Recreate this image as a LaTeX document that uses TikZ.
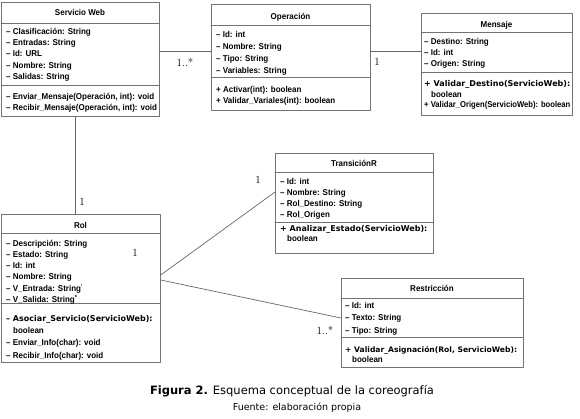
\documentclass[tikz,border=0pt]{standalone}
\usepackage{fontspec}
\newfontfamily\umlfont[FakeStretch=0.94]{Liberation Sans}
\newfontfamily\umlestrecho[FakeStretch=0.9]{Liberation Sans}
\newfontfamily\umlancho{DejaVu Sans}
\newfontfamily\piefont{DejaVu Sans}
\begin{document}
\begin{tikzpicture}[x=1pt, y=-1pt, line join=round, line cap=round,
	caja/.style={draw=black!55, line width=.7pt, inner sep=0pt, anchor=north west},
	borde/.style={draw=black!55, line width=.7pt},
	linea/.style={draw=black!60, line width=.7pt},
	titulo/.style={anchor=base, inner sep=0pt, font=\umlfont\bfseries\fontsize{8.5}{10}\selectfont},
	lista/.style={anchor=north west, inner sep=0pt, align=left, font=\umlfont\bfseries\fontsize{8.5}{#1}\selectfont},
	lista/.default=11.3,
	mult/.style={inner sep=0pt, font=\fontsize{11}{12}\selectfont}]
	\useasboundingbox (0,0) rectangle (580,418);
	% Servicio Web
	\node[caja, minimum width=158, minimum height=114] (sw) at (1,2) {};
	\foreach \y in {23,85} \draw[borde] (sw.west |- 0,\y) -- (sw.east |- 0,\y);
	\node[titulo] (swt) at (80,15.5) {Servicio Web};
	\node[lista] (swa) at (6,26) {\strut– Clasificación: String\\– Entradas: String\\– Id: URL\\– Nombre: String\\– Salidas: String};
	\node[lista] (swm) at (6,91) {\strut– Enviar\_Mensaje(Operación, int): void\\– Recibir\_Mensaje(Operación, int): void};
	% Operacion
	\node[caja, minimum width=159, minimum height=106] (op) at (211,4) {};
	\foreach \y in {25,77} \draw[borde] (op.west |- 0,\y) -- (op.east |- 0,\y);
	\node[titulo] (opt) at (290.5,19.7) {Operación};
	\node[lista=12] (opa) at (216,29) {\strut– Id: int\\– Nombre: String\\– Tipo: String\\– Variables: String};
	\node[lista=10.7] (opm) at (216,84.8) {\strut+ Activar(int): boolean\\+ Validar\_Variales(int): boolean};
	% Mensaje
	\node[caja, minimum width=151, minimum height=102] (me) at (421,13) {};
	\foreach \y in {32,72} \draw[borde] (me.west |- 0,\y) -- (me.east |- 0,\y);
	\node[titulo] (met) at (496.5,27) {Mensaje};
	\node[lista=11.2] (mea) at (424,36.2) {\strut– Destino: String\\– Id: int\\– Origen: String};
	\node[lista=10.5] (mem) at (424,79) {\strut{\umlancho\fontsize{8}{10.5}\selectfont+ Validar\_Destino(ServicioWeb):}\\\hspace*{7pt}boolean\\{\umlestrecho+ Validar\_Origen(ServicioWeb): boolean}};
	% Rol
	\node[caja, minimum width=159, minimum height=148] (rol) at (1,214) {};
	\foreach \y in {233,303} \draw[borde] (rol.west |- 0,\y) -- (rol.east |- 0,\y);
	\node[titulo] (rolt) at (80.5,228) {Rol};
	\node[lista=11.2] (rola) at (6,238.2) {\strut– Descripción: String\\– Estado: String\\– Id: int\\– Nombre: String\\– V\_Entrada: String\textsuperscript{'}\\– V\_Salida: String\textsuperscript{*}};
	\node[lista=12.3] (rolm) at (6,312.4) {\strut{\umlancho\fontsize{8}{12.3}\selectfont– Asociar\_Servicio(ServicioWeb):}\\\hspace*{7pt}boolean\\– Enviar\_Info(char): void\\– Recibir\_Info(char): void};
	% TransicionR
	\node[caja, minimum width=158, minimum height=100] (tr) at (275,153) {};
	\foreach \y in {172,222} \draw[borde] (tr.west |- 0,\y) -- (tr.east |- 0,\y);
	\node[titulo] (trt) at (354,166) {TransiciónR};
	\node[lista=11] (tra) at (280,176.3) {\strut– Id: int\\– Nombre: String\\– Rol\_Destino: String\\– Rol\_Origen};
	\node[lista=10] (trm) at (280,224) {\strut{\umlancho\fontsize{8}{10}\selectfont+ Analizar\_Estado(ServicioWeb):}\\\hspace*{7pt}boolean};
	% Restriccion
	\node[caja, minimum width=182, minimum height=89] (re) at (341,278) {};
	\foreach \y in {298,337} \draw[borde] (re.west |- 0,\y) -- (re.east |- 0,\y);
	\node[titulo] (ret) at (432,291) {Restricción};
	\node[lista=12.5] (rea) at (345,299.3) {\strut– Id: int\\– Texto: String\\– Tipo: String};
	\node[lista=10] (rem) at (345,345) {\strut{\umlancho\fontsize{7.6}{10}\selectfont+ Validar\_Asignación(Rol, ServicioWeb):}\\\hspace*{7pt}boolean};
	% asociaciones
	\draw[linea] (sw.east |- 0,51) -- (op.west |- 0,51);
	\draw[linea] (op.east |- 0,51) -- (me.west |- 0,51);
	\draw[linea] (sw.south -| 0,0) ++(75,0) coordinate (swb) -- (swb |- rol.north);
	\draw[linea] (rol.east |- 0,275) -- (tr.west |- 0,192);
	\draw[linea] (rol.east |- 0,280) -- (re.west |- 0,318);
	\node[mult] (m1) at (185,62) {1..*};
	\node[mult] (m2) at (377,62) {1};
	\node[mult] (m3) at (82,202) {1};
	\node[mult] (m4) at (135,253) {1};
	\node[mult] (m5) at (258,180) {1};
	\node[mult] (m6) at (325,330) {1..*};
	% pie
	\node[font=\piefont\fontsize{11.5}{13}\selectfont] (fig) at (292,391) {\textbf{Figura 2.} Esquema conceptual de la coreografía};
	\node[font=\piefont\fontsize{9.5}{11}\selectfont] (fte) at (297,408) {Fuente: elaboración propia};
\end{tikzpicture}
\end{document}
